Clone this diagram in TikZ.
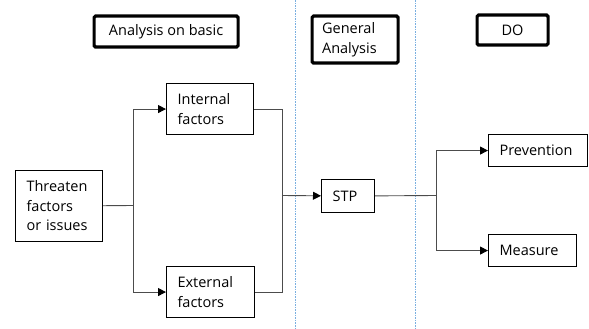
\documentclass[tikz,border=0pt]{standalone}
\usepackage{fontspec}
\setmainfont{Open Sans}
\usetikzlibrary{arrows.meta,positioning}
\definecolor{sepblue}{HTML}{7AAFE0}

\begin{document}
\begin{tikzpicture}[
    x = 1pt, y = -1pt, % pixel grid, y downwards
    > = {Triangle[length=8pt, width=8pt, color=black]}, % arrow head style
    font = \fontsize{14.5}{19.5}\selectfont,
    semithick
    ]

    \tikzset{
    box/.style = {draw = black, line width = 1.1pt, anchor = north west,
        align = left, inner xsep = 11pt, inner ysep = 0pt},
    head/.style = {draw = black, line width = 3.2pt, rounded corners = 1.5pt,
        anchor = north west, inner xsep = 10pt, inner ysep = 0pt},
    link/.style = {draw = black!70, line width = 0.9pt},
    sep/.style = {draw = sepblue, dash pattern = on 1.6pt off 1pt,
        line width = 0.9pt}
    }
    \useasboundingbox (0,0) rectangle (589,329);

    % column separators
    \coordinate (s1t) at (295,0);
    \coordinate (s1b) at (295,329);
    \coordinate (s2t) at (415,0);
    \coordinate (s2b) at (415,329);
    \draw[sep] (s1t) -- (s1b);
    \draw[sep] (s2t) -- (s2b);

    % headings
    \node[head, minimum width = 144pt, minimum height = 31pt, align = center]
        (basic) at (92.5,14.5) {Analysis on basic};
    \node[head, text width = 66pt, minimum height = 47pt, align = left]
        (general) at (310.5,14.5) {General\\Analysis};
    \node[head, minimum width = 71pt, minimum height = 30pt, align = center]
        (do) at (475.5,13.5) {DO};

    % boxes
    \node[box, text width = 65pt, minimum height = 71pt] (thr) at (15,170)
        {Threaten\\factors\\or issues};
    \node[box, text width = 65pt, minimum height = 51pt] (int) at (166,83)
        {Internal\\factors};
    \node[box, text width = 66pt, minimum height = 51pt] (ext) at (166,266)
        {External\\factors};
    \node[box, text width = 31pt, minimum height = 33pt] (stp) at (321,179)
        {STP};
    \node[box, text width = 77pt, minimum height = 32pt] (prev) at (488,134)
        {Prevention};
    \node[box, text width = 66pt, minimum height = 32pt] (meas) at (488,234)
        {Measure};

    % junctions
    \coordinate (j1) at (133,205.5);
    \coordinate (j2) at (282,195.5);
    \coordinate (j3) at (436,195.5);

    \draw[link] (thr) -- (j1);
    \draw[link,->] (j1) |- (int);
    \draw[link,->] (j1) |- (ext);
    \draw[link] (int) -| (j2);
    \draw[link] (ext) -| (j2);
    \draw[link,->] (j2) -- (stp);
    \draw[link] (stp) -- (j3);
    \draw[link,->] (j3) |- (prev);
    \draw[link,->] (j3) |- (meas);
\end{tikzpicture}
\end{document}
